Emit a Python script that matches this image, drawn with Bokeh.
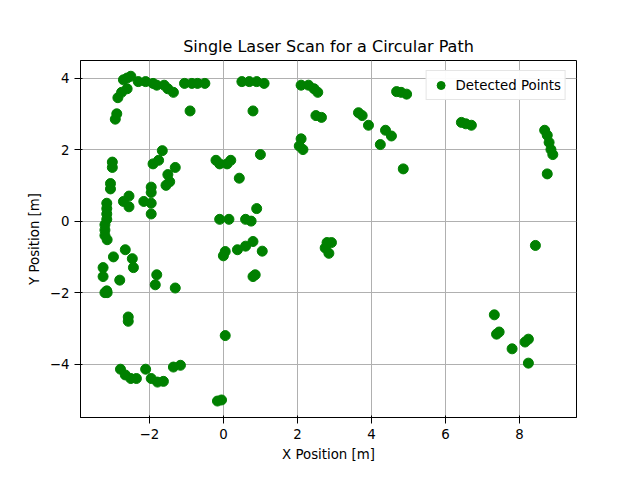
from bokeh.plotting import figure
from bokeh.embed import file_html
from bokeh.resources import INLINE
from bokeh.models import Range1d

x_pts = [
    -3.2, -3.15, -3.25, -3.25, -3.14, -3.2, -3.2, -3.2, -3.15, -3.15, -3.15, -3.15, -3.05, -3.05, -3.0, -3.0,
    -2.92, -2.88, -2.85, -2.75, -2.6, -2.7, -2.6, -2.5, -2.3, -2.1, -1.9, -1.8, -1.6, -1.5, -1.35,
    -1.05, -0.85, -0.7, -0.5, -0.9, 0.5, 0.7, 0.9, 1.1, 0.8, 2.1, 2.3, 2.45, 2.55, 2.5, 2.65,
    2.1, 2.05, 2.15, 1.0, 0.43, -0.2, -0.1, 0.1, 0.2, -1.9, -1.75, -1.65, -1.3, -1.5, -1.55, -1.45,
    -2.55, -2.7, -2.55, -1.95, -1.95, -1.95, -2.15, -1.95, -0.1, 0.15, 0.6, 0.75, 0.9,
    0.0, 0.05, 0.38, 0.6, 0.8, 1.05, 0.86, 0.8,
    -2.97, -2.65, -2.46, -2.43, -2.8, -3.14, -1.8, -1.84, -1.3, -2.57, -2.57, 0.05,
    -2.78, -2.65, -2.5, -2.35, -2.1, -1.95, -1.78, -1.62, -1.35, -1.16, -0.16, -0.05,
    2.8, 2.85, 2.75, 2.92,
    3.65, 3.75, 3.92, 4.38, 4.54, 4.24, 4.86, 4.68, 4.8, 4.95,
    6.43, 6.55, 6.7, 8.68, 8.75, 8.8, 8.85, 8.9, 8.75, 8.43,
    7.32, 7.38, 7.45, 7.8, 8.15, 8.24, 8.24,
]
y_pts = [
    -2.0, -1.95, -1.55, -1.3, -0.52, -0.4, -0.25, -0.1, 0.05, 0.2, 0.35, 0.5, 0.9, 1.05, 1.5, 1.65,
    2.85, 3.0, 3.45, 3.6, 3.7, 3.95, 4.0, 4.05, 3.9, 3.9, 3.85, 3.8, 3.8, 3.7, 3.6,
    3.85, 3.85, 3.85, 3.85, 3.08, 3.9, 3.9, 3.9, 3.85, 3.08, 3.8, 3.8, 3.7, 3.6, 2.95, 2.9,
    2.3, 2.1, 2.0, 1.86, 1.2, 1.7, 1.6, 1.6, 1.7, 1.6, 1.7, 1.97, 1.5, 1.3, 1.0, 1.1,
    0.7, 0.55, 0.4, 0.95, 0.8, 0.5, 0.55, 0.2, 0.05, 0.05, 0.05, 0.0, 0.35,
    -0.97, -0.85, -0.8, -0.7, -0.57, -0.84, -1.5, -1.55,
    -1.0, -0.8, -1.05, -1.3, -1.65, -2.0, -1.5, -1.78, -1.87, -2.68, -2.8, -3.2,
    -4.14, -4.3, -4.4, -4.4, -4.14, -4.4, -4.5, -4.48, -4.08, -4.03, -5.03, -5.0,
    -0.6, -0.9, -0.75, -0.6,
    3.03, 2.95, 2.68, 2.54, 2.38, 2.14, 1.46, 3.62, 3.6, 3.55,
    2.76, 2.72, 2.68, 2.54, 2.4, 2.2, 2.0, 1.86, 1.32, -0.68,
    -2.62, -3.16, -3.1, -3.57, -3.38, -3.3, -3.97,
]

p = figure(width=624, height=464, output_backend="svg", toolbar_location=None,
           title="Single Laser Scan for a Circular Path",
           x_range=Range1d(-3.86, 9.54), y_range=Range1d(-5.49, 4.49),
           min_border_left=80, min_border_right=48, min_border_top=60, min_border_bottom=35)
p.title.align = "center"
p.title.text_font = "DejaVu Sans"
p.title.text_font_size = "12pt"
p.title.text_font_style = "normal"
p.title.text_color = "black"
p.scatter(x_pts, y_pts, size=10, color="green", legend_label="Detected Points")
p.xaxis.axis_label = "X Position [m]"
p.yaxis.axis_label = "Y Position [m]"
for ax in (p.xaxis, p.yaxis):
    ax.axis_label_text_font = "DejaVu Sans"
    ax.axis_label_text_font_style = "normal"
    ax.axis_label_text_font_size = "10pt"
    ax.axis_label_text_color = "black"
    ax.major_label_text_font = "DejaVu Sans"
    ax.major_label_text_font_size = "10pt"
    ax.major_label_text_color = "black"
    ax.minor_tick_line_color = None
    ax.axis_line_color = "black"
    ax.major_tick_line_color = "black"
p.xaxis.ticker = [-2, 0, 2, 4, 6, 8]
p.yaxis.ticker = [-4, -2, 0, 2, 4]
p.grid.grid_line_color = "#b0b0b0"
p.outline_line_color = "black"
p.legend.location = "top_right"
p.legend.label_text_font = "DejaVu Sans"
p.legend.label_text_font_size = "10pt"
p.legend.label_text_color = "black"
p.legend.border_line_color = "#cccccc"
p.legend.padding = 4
p.legend.spacing = 0
open("out.html", "w").write(file_html(p, INLINE))
